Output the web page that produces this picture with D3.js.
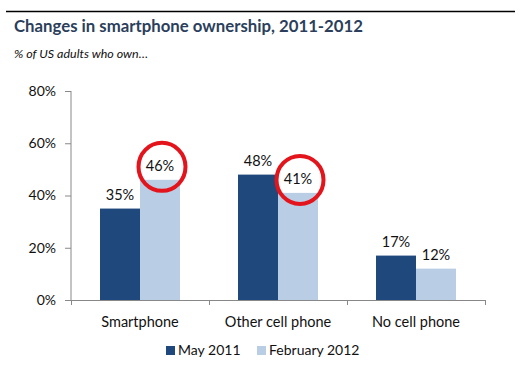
<!DOCTYPE html>
<html><head><meta charset="utf-8">
<script src="https://cdn.jsdelivr.net/npm/d3@7"></script>
<style>body{margin:0;background:#fff}svg{display:block}</style>
</head><body>
<script>
const categories = ["Smartphone", "Other cell phone", "No cell phone"];
const seriesNames = ["May 2011", "February 2012"];
const may2011 = [35, 48, 17];
const feb2012 = [46, 41, 12];
const yTicks = [0, 20, 40, 60, 80];
const highlighted = [[0, 1], [1, 1]]; // [category index, series index] circled
const colors = ["#1f497d", "#b9cde5"];

const W = 522, H = 366;
const svg = d3.select("body").append("svg").attr("width", W).attr("height", H);
const font = "Lato, 'Liberation Sans', sans-serif";

svg.append("line").attr("x1", 6).attr("x2", 515).attr("y1", 11.5).attr("y2", 11.5)
  .attr("stroke", "#000").attr("stroke-width", 1.3);
svg.append("text").attr("x", 14).attr("y", 32).text("Changes in smartphone ownership, 2011-2012")
  .attr("font-family", font).attr("font-weight", "bold").attr("font-size", 17.5).attr("fill", "#2b3f5c")
  .attr("textLength", 349).attr("lengthAdjust", "spacingAndGlyphs");
svg.append("text").attr("x", 14).attr("y", 58).text("% of US adults who own…")
  .attr("font-family", font).attr("font-style", "italic").attr("font-size", 11).attr("fill", "#111")
  .attr("textLength", 134).attr("lengthAdjust", "spacingAndGlyphs");

const x0 = d3.scaleBand().domain(categories).range([71, 485]).paddingInner(0).paddingOuter(0);
const x1 = d3.scaleBand().domain(seriesNames).range([0, 80]);
const y = d3.scaleLinear().domain([0, 80]).range([300, 91]);

const yAxis = svg.append("g").attr("transform", "translate(71,0)")
  .call(d3.axisLeft(y).tickValues(yTicks).tickFormat(d => d + "%").tickSize(6).tickPadding(9));
yAxis.select(".domain").attr("stroke", "#888").attr("d", "M0," + y(80) + "V" + y(0));
yAxis.selectAll(".tick line").attr("stroke", "#888");
yAxis.selectAll("text").attr("font-family", font).attr("font-size", 14).attr("fill", "#111");

const xAxis = svg.append("g").attr("transform", "translate(0,300)")
  .call(d3.axisBottom(x0).tickSize(0).tickPadding(17));
xAxis.select(".domain").attr("stroke", "#888");
xAxis.selectAll("text").attr("font-family", font).attr("font-size", 14.5).attr("fill", "#111");
const bounds = [...categories.map(c => x0(c)), x0.range()[1]];
svg.append("g").selectAll("line").data(bounds).join("line")
  .attr("x1", d => d + 0.5).attr("x2", d => d + 0.5).attr("y1", 300).attr("y2", 305).attr("stroke", "#888");

const series = [may2011, feb2012];
const groups = svg.append("g").selectAll("g").data(categories).join("g")
  .attr("transform", c => `translate(${x0(c) + (x0.bandwidth() - 80) / 2},0)`);
groups.selectAll("rect").data((c, i) => seriesNames.map((s, j) => ({s, j, v: series[j][i]}))).join("rect")
  .attr("x", d => x1(d.s)).attr("width", x1.bandwidth())
  .attr("y", d => y(d.v)).attr("height", d => y(0) - y(d.v)).attr("fill", d => colors[d.j]);
groups.selectAll("text").data((c, i) => seriesNames.map((s, j) => ({s, j, v: series[j][i]}))).join("text")
  .attr("x", d => x1(d.s) + x1.bandwidth() / 2).attr("y", d => y(d.v) - 9)
  .attr("text-anchor", "middle").attr("font-family", font).attr("font-size", 14.5).attr("fill", "#111")
  .text(d => d.v + "%");

svg.append("g").selectAll("ellipse").data(highlighted).join("ellipse")
  .attr("cx", d => x0(categories[d[0]]) + (x0.bandwidth() - 80) / 2 + x1(seriesNames[d[1]]) + x1.bandwidth() / 2 + 2)
  .attr("cy", d => y(series[d[1]][d[0]]) - 13)
  .attr("rx", 23.5).attr("ry", 24)
  .attr("fill", "none").attr("stroke", "#e3141b").attr("stroke-width", 4);

const leg = svg.append("g").selectAll("g").data(seriesNames).join("g")
  .attr("transform", (d, i) => `translate(${[166, 257][i]},346)`);
leg.append("rect").attr("width", 9).attr("height", 9).attr("fill", (d, i) => colors[i]);
leg.append("text").attr("x", 12).attr("y", 8.5).text(d => d)
  .attr("font-family", font).attr("font-size", 14).attr("fill", "#111");
</script>
</body></html>
